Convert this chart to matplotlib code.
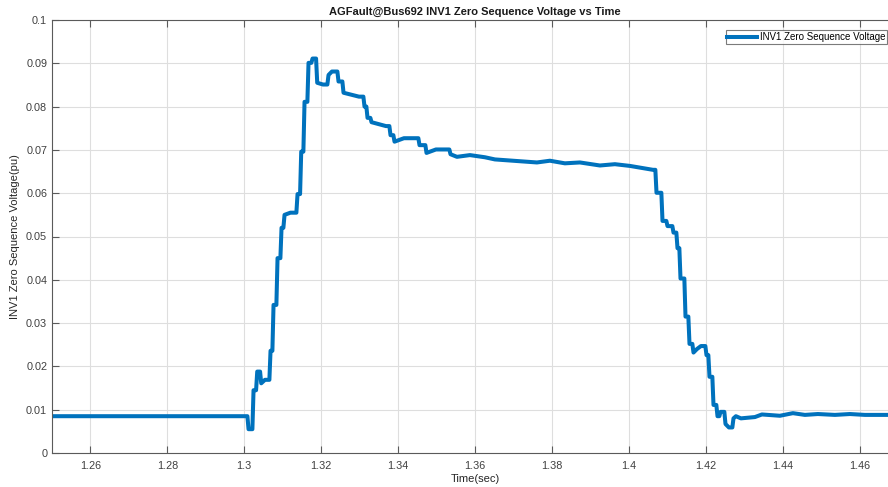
import numpy as np
import matplotlib
matplotlib.use('Agg')
import matplotlib.pyplot as plt

plt.rcParams['font.family'] = ['Liberation Sans', 'DejaVu Sans']

# points (time in sec, voltage in pu); big jumps are drawn as steps
t = [1.25, 1.30096, 1.30226, 1.30322, 1.30426, 1.30538, 1.30668, 1.30746,
     1.30850, 1.30954, 1.31032, 1.31200, 1.31370, 1.31466, 1.31552, 1.31656,
     1.31760, 1.31882, 1.32046, 1.32176, 1.32280, 1.32436, 1.32566, 1.32982,
     1.33112, 1.33190, 1.33294, 1.33684, 1.33788, 1.33892, 1.34152, 1.34542,
     1.34724, 1.34984, 1.35348, 1.35530, 1.35868, 1.36258, 1.36518, 1.37610,
     1.37948, 1.38338, 1.38728, 1.39248, 1.39638, 1.40029, 1.40627, 1.40705,
     1.40861, 1.40991, 1.41147, 1.41251, 1.41329, 1.41459, 1.41563, 1.41667,
     1.41771, 1.41875, 1.42005, 1.42083, 1.42187, 1.42291, 1.42369, 1.42499,
     1.42603, 1.42707, 1.42785, 1.42915, 1.43279, 1.43461, 1.43929, 1.44267,
     1.44579, 1.44917, 1.45359, 1.45749, 1.46139, 1.47]
v = [0.0085, 0.0055, 0.0145, 0.0188, 0.0161, 0.0169, 0.0236, 0.0342,
     0.0450, 0.0520, 0.0550, 0.0555, 0.0598, 0.0696, 0.0811, 0.0901,
     0.0911, 0.0855, 0.0851, 0.0873, 0.0881, 0.0858, 0.0832, 0.0823,
     0.0800, 0.0774, 0.0764, 0.0755, 0.0734, 0.0719, 0.0727, 0.0711,
     0.0693, 0.0701, 0.0690, 0.0684, 0.0688, 0.0683, 0.0678, 0.0671,
     0.0675, 0.0669, 0.0671, 0.0664, 0.0667, 0.0663, 0.0654, 0.0601,
     0.0536, 0.0524, 0.0509, 0.0473, 0.0403, 0.0315, 0.0252, 0.0232,
     0.0240, 0.0247, 0.0226, 0.0176, 0.0111, 0.0085, 0.0095, 0.0067,
     0.0059, 0.0080, 0.0085, 0.0080, 0.0083, 0.0089, 0.0086, 0.0092,
     0.0088, 0.0090, 0.0088, 0.0090, 0.0088, 0.0088]

xticks = [1.26, 1.28, 1.3, 1.32, 1.34, 1.36, 1.38, 1.4, 1.42, 1.44, 1.46]
xticklabels = ['1.26', '1.28', '1.3', '1.32', '1.34', '1.36', '1.38', '1.4', '1.42', '1.44', '1.46']
yticks = [0, 0.01, 0.02, 0.03, 0.04, 0.05, 0.06, 0.07, 0.08, 0.09, 0.1]
yticklabels = ['0', '0.01', '0.02', '0.03', '0.04', '0.05', '0.06', '0.07', '0.08', '0.09', '0.1']

# build the path: sharp jumps as steps, small changes as gentle slopes
px, py = [t[0]], [v[0]]
for i in range(1, len(t)):
    if abs(v[i] - v[i - 1]) > 0.0009:
        px.append(t[i] - 0.00015)
        py.append(v[i - 1])
        px.append(t[i] + 0.00015)
        py.append(v[i])
    else:
        px.append(t[i])
        py.append(v[i])

W, H = 888, 487
fig = plt.figure(figsize=(W / 100, H / 100), dpi=100)
# axes runs a bit past the right edge, like the cropped original
ax = fig.add_axes([52 / W, (H - 453) / H, 846 / W, 433 / H])

ax.plot(px, py, color='#0072BD', linewidth=2.9, label='INV1 Zero Sequence Voltage')

ax.set_xlim(1.25, 1.47)
ax.set_ylim(0, 0.1)
ax.set_xticks(xticks)
ax.set_xticklabels(xticklabels)
ax.set_yticks(yticks)
ax.set_yticklabels(yticklabels)

ax.grid(True, color='#dedede', linewidth=0.8)
ax.set_axisbelow(True)
for s in ax.spines.values():
    s.set_color('#5a5a5a')
    s.set_linewidth(0.8)
ax.tick_params(direction='in', length=5, width=0.8, colors='#5a5a5a',
               labelcolor='#404040', labelsize=7.8, top=True, right=True,
               labeltop=False, labelright=False)
ax.tick_params(axis='x', pad=6)

ax.set_title('AGFault@Bus692 INV1 Zero Sequence Voltage vs Time',
             fontsize=8, fontweight='bold', color='#1a1a1a', pad=4)
ax.set_xlabel('Time(sec)', fontsize=8, color='#262626', labelpad=2)
ax.set_ylabel('INV1 Zero Sequence Voltage(pu)', fontsize=8, color='#262626', labelpad=4)

leg = ax.legend(loc='upper right', fontsize=7, frameon=True, fancybox=False,
                handlelength=3.0, handletextpad=0.3, borderpad=0.2,
                bbox_to_anchor=(887 / W, 1 - 30 / H), bbox_transform=fig.transFigure,
                borderaxespad=0)
leg.get_frame().set_edgecolor('#5a5a5a')
leg.get_frame().set_linewidth(0.8)

fig.savefig('out.png', dpi=100)
